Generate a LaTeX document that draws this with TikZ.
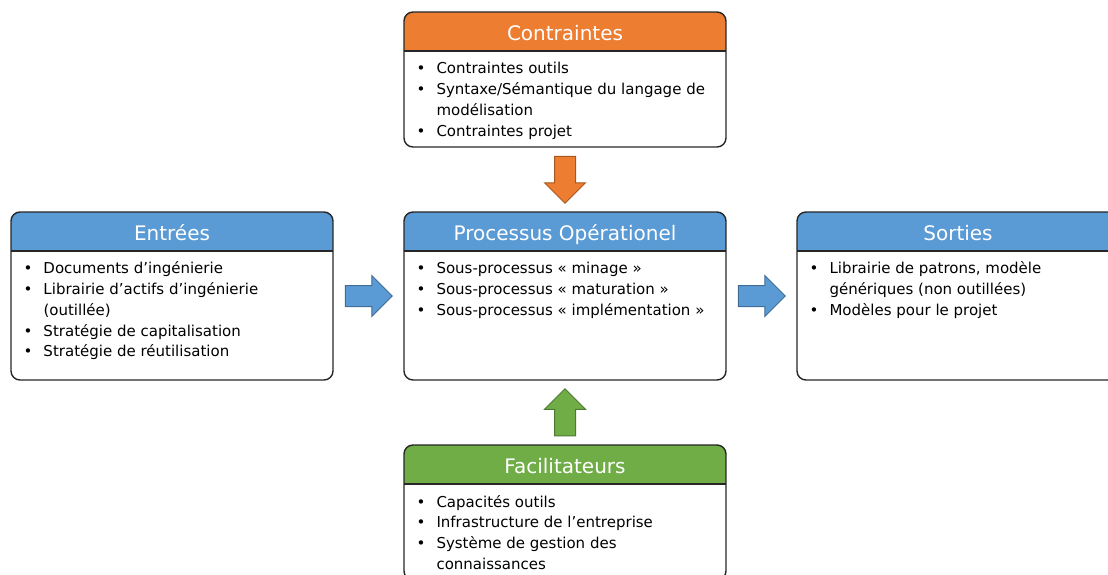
\documentclass[tikz,border=0pt]{standalone}
\usepackage{fontspec}
\setmainfont{DejaVu Sans}
\usetikzlibrary{shapes.arrows,calc}
\definecolor{bleuP}{HTML}{5B9BD5}
\definecolor{orangeP}{HTML}{ED7D31}
\definecolor{vertP}{HTML}{70AD47}
\newcommand{\puce}{\makebox[20pt][l]{\textbullet}}
\newcommand{\liste}[1]{{\fontsize{15}{20.7}\selectfont\begin{tabular}{@{}l@{}l@{}}#1\end{tabular}}}

\begin{document}
\begin{tikzpicture}[x=1pt,y=-1pt,
  bloc/.style={draw=black!85,line width=1.4,rounded corners=9,minimum width=322,minimum height=#1,inner sep=0},
  entete/.style={path picture={\fill[#1,sharp corners] (path picture bounding box.north west) rectangle ([yshift=-39]path picture bounding box.north east);
    \draw[black!85,line width=1.4,sharp corners] ([yshift=-39]path picture bounding box.north west) -- ([yshift=-39]path picture bounding box.north east);}},
  titre/.style={anchor=base,text=white,font=\fontsize{20}{24}\selectfont,inner sep=0},
  corps/.style={anchor=north west,inner sep=0,align=left},
  fleche/.style={single arrow,draw=#1!70!black,fill=#1,line width=1,minimum height=47,single arrow head extend=10,inner sep=10}]
\clip (0,0) rectangle (1108,574);
\node[bloc=135,entete=orangeP] (cont) at (565,79.5) {};
\node[titre] (tcont) at ([yshift=-29]cont.north) {Contraintes};
\node[corps] (lcont) at ([xshift=13,yshift=-48]cont.north west) {\liste{\puce & Contraintes outils\\ \puce & Syntaxe/Sémantique du langage de\\ & modélisation\\ \puce & Contraintes projet}};
\node[bloc=168,entete=bleuP] (ent) at (172,296) {};
\node[titre] (tent) at ([yshift=-29]ent.north) {Entrées};
\node[corps] (lent) at ([xshift=13,yshift=-48]ent.north west) {\liste{\puce & Documents d’ingénierie\\ \puce & Librairie d’actifs d’ingénierie\\ & (outillée)\\ \puce & Stratégie de capitalisation\\ \puce & Stratégie de réutilisation}};
\node[bloc=168,entete=bleuP] (proc) at (565,296) {};
\node[titre] (tproc) at ([yshift=-29]proc.north) {Processus Opérationel};
\node[corps] (lproc) at ([xshift=13,yshift=-48]proc.north west) {\liste{\puce & Sous-processus «~minage~»\\ \puce & Sous-processus «~maturation~»\\ \puce & Sous-processus «~implémentation~»}};
\node[bloc=168,entete=bleuP] (sort) at (958,296) {};
\node[titre] (tsort) at ([yshift=-29]sort.north) {Sorties};
\node[corps] (lsort) at ([xshift=13,yshift=-48]sort.north west) {\liste{\puce & Librairie de patrons, modèle\\ & génériques (non outillées)\\ \puce & Modèles pour le projet}};
\node[bloc=135,entete=vertP] (fac) at (565,512.5) {};
\node[titre] (tfac) at ([yshift=-29]fac.north) {Facilitateurs};
\node[corps] (lfac) at ([xshift=13,yshift=-48]fac.north west) {\liste{\puce & Capacités outils\\ \puce & Infrastructure de l’entreprise\\ \puce & Système de gestion des\\ & connaissances}};
\node[fleche=orangeP,shape border rotate=270,yshift=5] (fcont) at ($(cont.south)!.5!(proc.north)$) {};
\node[fleche=bleuP,xshift=-5] (fent) at ($(ent.east)!.5!(proc.west)$) {};
\node[fleche=bleuP,xshift=-5] (fsort) at ($(proc.east)!.5!(sort.west)$) {};
\node[fleche=vertP,shape border rotate=90,yshift=-5] (ffac) at ($(fac.north)!.5!(proc.south)$) {};
\end{tikzpicture}
\end{document}
